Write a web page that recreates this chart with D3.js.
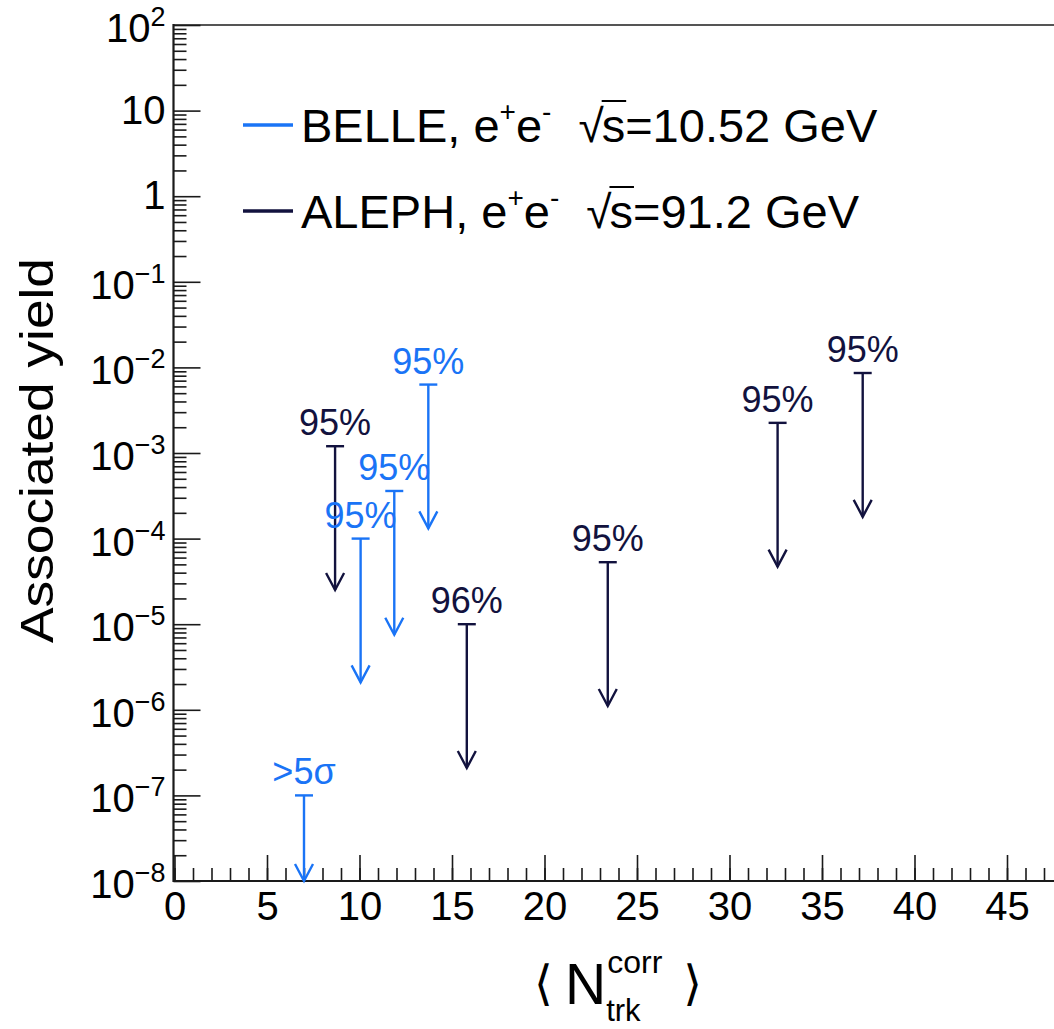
<!DOCTYPE html>
<html>
<head>
<meta charset="utf-8">
<script src="https://cdn.jsdelivr.net/npm/d3@7"></script>
<style>
  html, body { margin: 0; padding: 0; background: #fff; overflow: hidden; }
  text { font-family: "Liberation Sans", Arial, Helvetica, sans-serif; }
</style>
</head>
<body>
<svg id="chart" width="1054" height="1029"></svg>
<script>
// Upper limits on the associated yield versus corrected track multiplicity
const seriesNames = ["BELLE", "ALEPH"];
const seriesEnergies = ["10.52", "91.2"];

const belleN = [7.0, 10.06, 11.88, 13.72];
const belleLimit = [1.0e-7, 1.0e-4, 3.6e-4, 6.3e-3];
const belleCL = [">5σ", "95%", "95%", "95%"];

const alephN = [8.68, 15.8, 23.42, 32.6, 37.2];
const alephLimit = [1.2e-3, 1.0e-5, 5.3e-5, 2.25e-3, 8.6e-3];
const alephCL = ["95%", "96%", "95%", "95%", "95%"];

const xMajorTicks = [0, 5, 10, 15, 20, 25, 30, 35, 40, 45];
const yExponents = [-8, -7, -6, -5, -4, -3, -2, -1, 0, 1, 2];

// ---- styling ----
const belleColor = "#1a74f6";
const alephColor = "#12123e";
const axisColor = "#1a1a1a";
const arrowDecades = 1.68;     // arrow length, in decades of the log axis
const capHalf = 9, headHalf = 9, headLen = 17;

const svg = d3.select("#chart");
const W = 1054, H = 1029;

const x = d3.scaleLinear().domain([0, 50]).range([174.5, 1099.5]);
const y = d3.scaleLog().domain([1e-8, 1e2]).range([881, 25]);
const yBottom = y.range()[0], yTop = y.range()[1];
const xLeft = x.range()[0];

// ---- frame ----
svg.append("line")
  .attr("x1", xLeft - 1).attr("x2", W).attr("y1", yTop).attr("y2", yTop)
  .attr("stroke", "#555").attr("stroke-width", 2);

// ---- x axis: minor ticks every unit, major every 5 ----
const xMinor = d3.axisBottom(x).tickValues(d3.range(0, 51, 1)).tickSize(-13).tickFormat("");
const gxMinor = svg.append("g").attr("transform", `translate(0,${yBottom})`).call(xMinor);
const xMajor = d3.axisBottom(x).tickValues(xMajorTicks).tickSize(-26).tickPadding(11).tickFormat(d3.format("d"));
const gxMajor = svg.append("g").attr("transform", `translate(0,${yBottom})`).call(xMajor);
[gxMinor, gxMajor].forEach(g => {
  g.select(".domain").remove();
  g.selectAll(".tick line").attr("stroke", axisColor).attr("stroke-width", 1.6);
});
gxMajor.selectAll(".tick text")
  .attr("fill", "#000").style("font-size", "40px")
  .style("font-family", '"Liberation Sans", Arial, sans-serif');
svg.append("line")
  .attr("x1", xLeft - 1.5).attr("x2", W).attr("y1", yBottom).attr("y2", yBottom)
  .attr("stroke", axisColor).attr("stroke-width", 2.2);

// ---- y axis: log scale with 2..9 minor ticks ----
const yMinorVals = [];
yExponents.slice(0, -1).forEach(e => {
  for (let k = 2; k <= 9; k++) yMinorVals.push(k * Math.pow(10, e));
});
const yMinor = d3.axisLeft(y).tickValues(yMinorVals).tickSize(-13).tickFormat("");
const gyMinor = svg.append("g").attr("transform", `translate(${xLeft - 1},0)`).call(yMinor);
const yMajor = d3.axisLeft(y).tickValues(yExponents.map(e => Math.pow(10, e))).tickSize(-27).tickFormat("");
const gyMajor = svg.append("g").attr("transform", `translate(${xLeft - 1},0)`).call(yMajor);
[gyMinor, gyMajor].forEach(g => {
  g.select(".domain").remove();
  g.selectAll(".tick line").attr("stroke", axisColor).attr("stroke-width", 1.6);
});
svg.append("line")
  .attr("x1", xLeft - 1).attr("x2", xLeft - 1).attr("y1", yTop - 1).attr("y2", yBottom + 1)
  .attr("stroke", axisColor).attr("stroke-width", 2.2);

// tick labels: 10^n, with plain "1" and "10"
const yLabels = svg.append("g").attr("class", "ylabels");
yExponents.forEach(e => {
  const ty = y(Math.pow(10, e));
  const t = yLabels.append("text")
    .attr("text-anchor", "end")
    .attr("x", xLeft - 9)
    .attr("fill", "#000")
    .style("font-size", "40px");
  if (e === 0 || e === 1) {
    t.attr("y", ty + 13).text(e === 0 ? "1" : "10");
  } else {
    t.attr("y", ty + 17);
    t.append("tspan").text("10");
    t.append("tspan").attr("dy", -16).style("font-size", "27px")
      .text(e < 0 ? "\u2212" + (-e) : String(e));
  }
});

// ---- axis titles ----
svg.append("text")
  .attr("transform", `translate(53,${(258 + 643) / 2}) rotate(-90)`)
  .attr("text-anchor", "middle")
  .attr("fill", "#000")
  .attr("textLength", 385)
  .attr("lengthAdjust", "spacingAndGlyphs")
  .style("font-size", "47px")
  .text("Associated yield");

const xt = svg.append("g").attr("class", "xtitle");
xt.append("text").attr("x", 534).attr("y", 1000)
  .style("font-family", '"DejaVu Sans", sans-serif').style("font-size", "48px")
  .attr("fill", "#000").text("\u27E8");
const nText = xt.append("text").attr("x", 565).attr("y", 1004)
  .style("font-size", "57px").attr("fill", "#000").text("N");
const nEnd = 565 + nText.node().getComputedTextLength();
const supText = xt.append("text").attr("x", nEnd + 1).attr("y", 973)
  .style("font-size", "32px").attr("fill", "#000").text("corr");
const subText = xt.append("text").attr("x", nEnd).attr("y", 1021)
  .style("font-size", "31px").attr("fill", "#000").text("trk");
const scriptEnd = Math.max(nEnd + 1 + supText.node().getComputedTextLength(),
                           nEnd + subText.node().getComputedTextLength());
xt.append("text").attr("x", scriptEnd + 21).attr("y", 1000)
  .style("font-family", '"DejaVu Sans", sans-serif').style("font-size", "48px")
  .attr("fill", "#000").text("\u27E9");

// ---- upper-limit arrows ----
function drawLimits(ns, limits, labels, color) {
  const g = svg.append("g");
  const pts = ns.map((n, i) => ({ n, v: limits[i], label: labels[i] }));
  pts.forEach(p => {
    const px = x(p.n);
    const py = y(p.v);
    const tip = Math.min(y(p.v / Math.pow(10, arrowDecades)), yBottom);
    g.append("line").attr("x1", px - capHalf).attr("x2", px + capHalf)
      .attr("y1", py).attr("y2", py)
      .attr("stroke", color).attr("stroke-width", 2.4);
    g.append("line").attr("x1", px).attr("x2", px).attr("y1", py).attr("y2", tip)
      .attr("stroke", color).attr("stroke-width", 2.4);
    g.append("path")
      .attr("d", d3.line()([[px - headHalf, tip - headLen], [px, tip], [px + headHalf, tip - headLen]]))
      .attr("fill", "none").attr("stroke", color).attr("stroke-width", 2.4);
    g.append("text").attr("x", px).attr("y", py - 11)
      .attr("text-anchor", "middle").attr("fill", color)
      .style("font-size", "36px").text(p.label);
  });
}
drawLimits(alephN, alephLimit, alephCL, alephColor);
drawLimits(belleN, belleLimit, belleCL, belleColor);

// ---- legend ----
const legendColors = [belleColor, alephColor];
const legendRows = [125, 211];
seriesNames.forEach((name, i) => {
  const cy = legendRows[i];
  svg.append("line").attr("x1", 243).attr("x2", 293).attr("y1", cy).attr("y2", cy)
    .attr("stroke", legendColors[i]).attr("stroke-width", 3.5);
  const base = cy + 17;
  const t = svg.append("text").attr("x", 301).attr("y", base)
    .attr("fill", "#000").style("font-size", "47px");
  t.append("tspan").text(name + ", e");
  t.append("tspan").attr("dy", -21).style("font-size", "28px").text("+");
  t.append("tspan").attr("dy", 21).text("e");
  t.append("tspan").attr("dy", -21).style("font-size", "28px").text("-");
  const root = t.append("tspan").attr("dy", 21).attr("dx", 27)
    .style("font-size", "46px").text("\u221A");
  const s = t.append("tspan").attr("dx", -2).text("s");
  t.append("tspan").text("=" + seriesEnergies[i] + " GeV");
  // bar over the radicand
  const sNode = s.node();
  const sx0 = sNode.getStartPositionOfChar(0).x;
  const sx1 = sx0 + sNode.getComputedTextLength();
  const rNode = root.node();
  const rx1 = rNode.getStartPositionOfChar(0).x + rNode.getComputedTextLength();
  svg.append("line").attr("x1", rx1 - 2).attr("x2", sx1 + 1)
    .attr("y1", base - 41).attr("y2", base - 41)
    .attr("stroke", "#000").attr("stroke-width", 2);
});
</script>
</body>
</html>
